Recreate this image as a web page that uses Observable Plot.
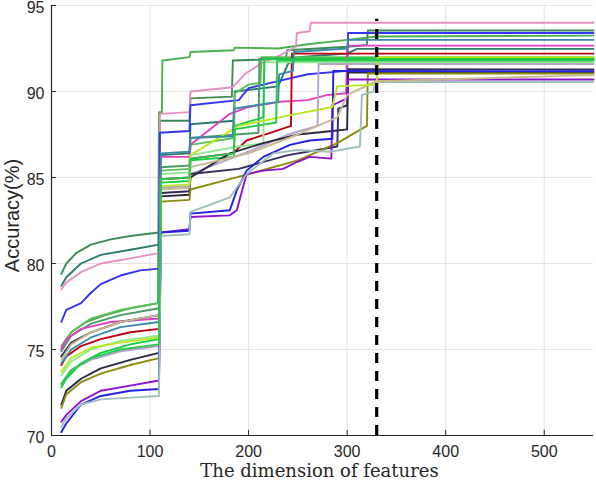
<!DOCTYPE html>
<html>
<head>
<meta charset="utf-8">
<script src="https://cdn.jsdelivr.net/npm/d3@7"></script>
<script src="https://cdn.jsdelivr.net/npm/@observablehq/plot@0.6"></script>
<style>
  html, body { margin: 0; padding: 0; background: #fff; }
  #chart svg { display: block; }
</style>
</head>
<body>
<div id="chart"></div>
<script>
// ---- data (x = dimension of features, y = accuracy %) ----
const xTicks = [0, 100, 200, 300, 400, 500];
const yTicks = [70, 75, 80, 85, 90, 95];
const selectedDim = 330;
const xLabel = "The dimension of features";
const yLabel = "Accuracy(%)";

const seriesNames = ["s01","s02","s03","s04","s05","s06","s07","s08","s09","s10","s11","s12","s13","s14","s15","s16","s17","s18","s19","s20","s21","s22"];
const seriesColors = ["#4cb050","#3d8a55","#2a7b6c","#e58fc4","#3434f5","#5cbf5c","#4a9a6a","#e040c0","#c00010","#90e890","#10d040","#b4a4c8","#302c5c","#282840","#8c8c10","#9010d0","#2222e0","#9fbfbc","#c8b890","#b8e820","#3a8aa8","#28c850"];

const s01 = [[10,75.2],[20,76.0],[35,76.6],[55,77.0],[80,77.4],[108,77.7],[109,88.8],[112,88.8],[112.5,91.8],[140,92.0],[141,92.3],[185,92.4],[186,92.55],[230,92.5],[260,92.75],[300,93.0],[330,93.2],[550,93.25]];
const s02 = [[10,79.4],[15,80.0],[25,80.6],[40,81.1],[60,81.4],[80,81.6],[109,81.8],[110,88.3],[140,88.3],[141,89.6],[183,89.7],[184,91.8],[238,91.9],[239,92.4],[300,92.6],[320,92.7],[321,93.55],[550,93.55]];
const s03 = [[10,78.7],[15,79.2],[30,80.0],[50,80.5],[80,80.8],[109,81.1],[110,86.3],[140,86.4],[141,88.1],[185,88.3],[186,90.0],[230,90.3],[240,91.6],[250,92.0],[300,92.2],[310,92.48],[550,92.48]];
const s04 = [[10,78.5],[15,78.9],[30,79.5],[50,80.0],[80,80.3],[109,80.6],[110,88.7],[140,88.8],[141,90.0],[184,90.25],[197,91.05],[212,91.6],[232,92.1],[248,92.6],[249,93.4],[262,93.5],[263,94.0],[550,94.0]];
const s05 = [[10,76.6],[15,77.3],[30,77.7],[40,78.3],[50,78.8],[70,79.3],[90,79.6],[109,79.7],[110,87.6],[140,87.7],[141,89.2],[190,89.5],[200,90.2],[230,90.6],[260,91.0],[300,91.2],[301,93.4],[550,93.4]];
const s06 = [[10,75.1],[20,76.0],[40,76.8],[70,77.3],[109,77.7],[111,85.4],[140,85.5],[141,86.9],[185,87.3],[186,89.9],[200,90.4],[212,90.5],[213,92.0],[550,92.0]];
const s07 = [[10,74.9],[20,75.8],[40,76.5],[70,77.0],[109,77.4],[111,85.6],[140,85.7],[141,87.3],[210,87.6],[211,91.9],[550,91.85]];
const s08 = [[10,75.0],[15,75.6],[30,76.2],[60,76.6],[109,76.8],[111,86.2],[140,86.2],[141,86.9],[181,88.7],[200,89.1],[232,89.4],[260,89.5],[280,89.8],[299,89.9],[300,92.67],[550,92.67]];
const s09 = [[10,74.1],[15,74.6],[30,75.2],[50,75.6],[80,76.0],[109,76.2],[111,84.9],[140,85.0],[141,86.1],[184,86.4],[198,87.15],[222,87.6],[243,88.0],[244,92.2],[550,92.2]];
const s10 = [[10,73.5],[20,74.3],[40,75.0],[70,75.5],[109,75.8],[111,85.2],[140,85.3],[141,86.3],[190,86.8],[215,87.0],[216,91.7],[550,91.7]];
const s11 = [[10,72.8],[15,73.3],[30,74.2],[50,74.8],[80,75.3],[109,75.6],[111,84.7],[140,84.8],[141,86.0],[185,86.2],[186,88.0],[215,88.5],[216,91.9],[550,91.9]];
const s12 = [[10,73.0],[20,73.8],[40,74.4],[70,74.9],[109,75.2],[111,84.4],[140,84.5],[141,85.2],[200,86.5],[240,87.5],[270,88.0],[271,91.6],[550,91.6]];
const s13 = [[10,74.6],[20,75.4],[40,76.0],[70,76.6],[109,77.0],[111,84.1],[140,84.2],[141,85.2],[190,85.5],[240,86.3],[290,86.8],[291,89.0],[300,89.2],[301,91.3],[550,91.28]];
const s14 = [[10,71.8],[15,72.6],[30,73.3],[50,73.9],[80,74.4],[109,74.8],[111,83.9],[140,84.0],[141,85.0],[181,86.4],[215,87.0],[250,87.5],[285,87.7],[300,87.8],[301,91.1],[550,91.1]];
const s15 = [[10,71.6],[15,72.4],[30,73.1],[50,73.6],[80,74.1],[109,74.5],[111,83.6],[140,83.7],[141,84.3],[200,85.2],[250,86.0],[290,87.0],[320,88.0],[321,91.05],[550,91.05]];
const s16 = [[10,70.8],[15,71.2],[30,72.0],[50,72.6],[80,72.9],[109,73.2],[111,81.8],[140,82.0],[141,82.7],[181,82.8],[188,83.1],[198,85.2],[215,85.4],[235,85.5],[249,85.9],[262,86.2],[284,86.1],[285,89.2],[300,89.6],[301,90.7],[550,90.7]];
const s17 = [[10,70.2],[15,70.7],[30,71.8],[50,72.3],[80,72.6],[109,72.7],[111,81.8],[140,81.9],[141,82.9],[181,83.1],[188,84.25],[198,85.4],[215,86.2],[242,86.9],[262,87.15],[285,87.25],[286,91.2],[550,91.18]];
const s18 = [[10,70.5],[15,71.0],[30,71.8],[50,72.1],[80,72.2],[109,72.3],[111,81.6],[140,81.7],[141,83.0],[181,83.85],[198,85.2],[225,86.4],[249,86.6],[283,86.5],[313,86.8],[315,89.8],[327,90.0],[328,90.55],[550,90.55]];
const s19 = [[10,74.4],[20,75.3],[40,76.0],[70,76.6],[109,77.0],[111,84.3],[140,84.4],[141,85.6],[200,86.4],[250,87.5],[290,88.5],[300,89.8],[330,90.6],[550,90.95]];
const s20 = [[10,73.7],[20,74.5],[40,75.1],[70,75.4],[109,75.7],[111,84.5],[140,84.6],[141,86.3],[190,88.0],[240,88.6],[285,89.1],[290,90.3],[330,90.4],[331,92.0],[550,92.0]];
const s21 = [[10,74.2],[20,75.0],[40,75.7],[70,76.3],[109,76.6],[111,86.4],[140,86.5],[141,87.3],[184,87.4],[185,89.0],[230,89.4],[231,91.0],[245,91.2],[246,92.3],[300,92.5],[301,93.0],[550,93.0]];
const s22 = [[10,73.0],[20,73.8],[40,74.5],[70,75.0],[109,75.3],[111,84.9],[140,85.0],[141,86.1],[185,86.4],[186,87.8],[228,88.2],[229,91.8],[550,91.8]];

const allSeries = [s01,s02,s03,s04,s05,s06,s07,s08,s09,s10,s11,s12,s13,s14,s15,s16,s17,s18,s19,s20,s21,s22];
const rows = allSeries.flatMap((s, k) => s.map(([x, y]) => ({series: seriesNames[k], x, y})));

const sans = "Liberation Sans, Arial, Helvetica, sans-serif";
const serif = "DejaVu Serif, serif";

const chart = Plot.plot({
  width: 596,
  height: 482,
  marginTop: 5,
  marginBottom: 47,
  marginLeft: 51,
  marginRight: 3,
  style: {fontFamily: sans, background: "#fff"},
  x: {domain: [0, 550]},
  y: {domain: [70, 95]},
  color: {domain: seriesNames, range: seriesColors},
  marks: [
    Plot.gridX(xTicks.filter(d => d > 0), {stroke: "#e3e3e3", strokeOpacity: 1, strokeWidth: 1}),
    Plot.gridY(yTicks.filter(d => d > 70), {stroke: "#e3e3e3", strokeOpacity: 1, strokeWidth: 1}),
    Plot.line(rows, {x: "x", y: "y", z: "series", stroke: "series", strokeWidth: 1.9, curve: "linear"}),
    Plot.ruleX([selectedDim], {y1: 70, y2: 94.2, stroke: "#000", strokeWidth: 3.2, strokeDasharray: "10,8"}),
    Plot.ruleX(xTicks.filter(d => d > 0), {y1: 70, y2: 70.3, stroke: "#262626", strokeWidth: 1}),
    Plot.ruleY(yTicks.filter(d => d > 70), {x1: 0, x2: 5, stroke: "#262626", strokeWidth: 1}),
    Plot.ruleY([70], {stroke: "#262626", strokeWidth: 1.2}),
    Plot.ruleX([0], {stroke: "#262626", strokeWidth: 1.2}),
    Plot.axisX({ticks: xTicks, tickSize: 0, tickPadding: 10, fontSize: 16, label: null, fill: "#262626"}),
    Plot.axisY({ticks: yTicks, tickSize: 0, tickPadding: 7, fontSize: 16, label: null, fill: "#262626", dy: 2}),
    Plot.text([xLabel], {frameAnchor: "bottom", lineAnchor: "middle", dy: 36, dx: -3, fontFamily: serif, fontSize: 18, fill: "#262626"}),
    Plot.text([yLabel], {frameAnchor: "left", rotate: -90, textAnchor: "middle", lineAnchor: "middle", dx: -39, dy: -5, fontFamily: sans, fontSize: 20, fill: "#262626"})
  ]
});
document.getElementById("chart").appendChild(chart);
</script>
</body>
</html>
